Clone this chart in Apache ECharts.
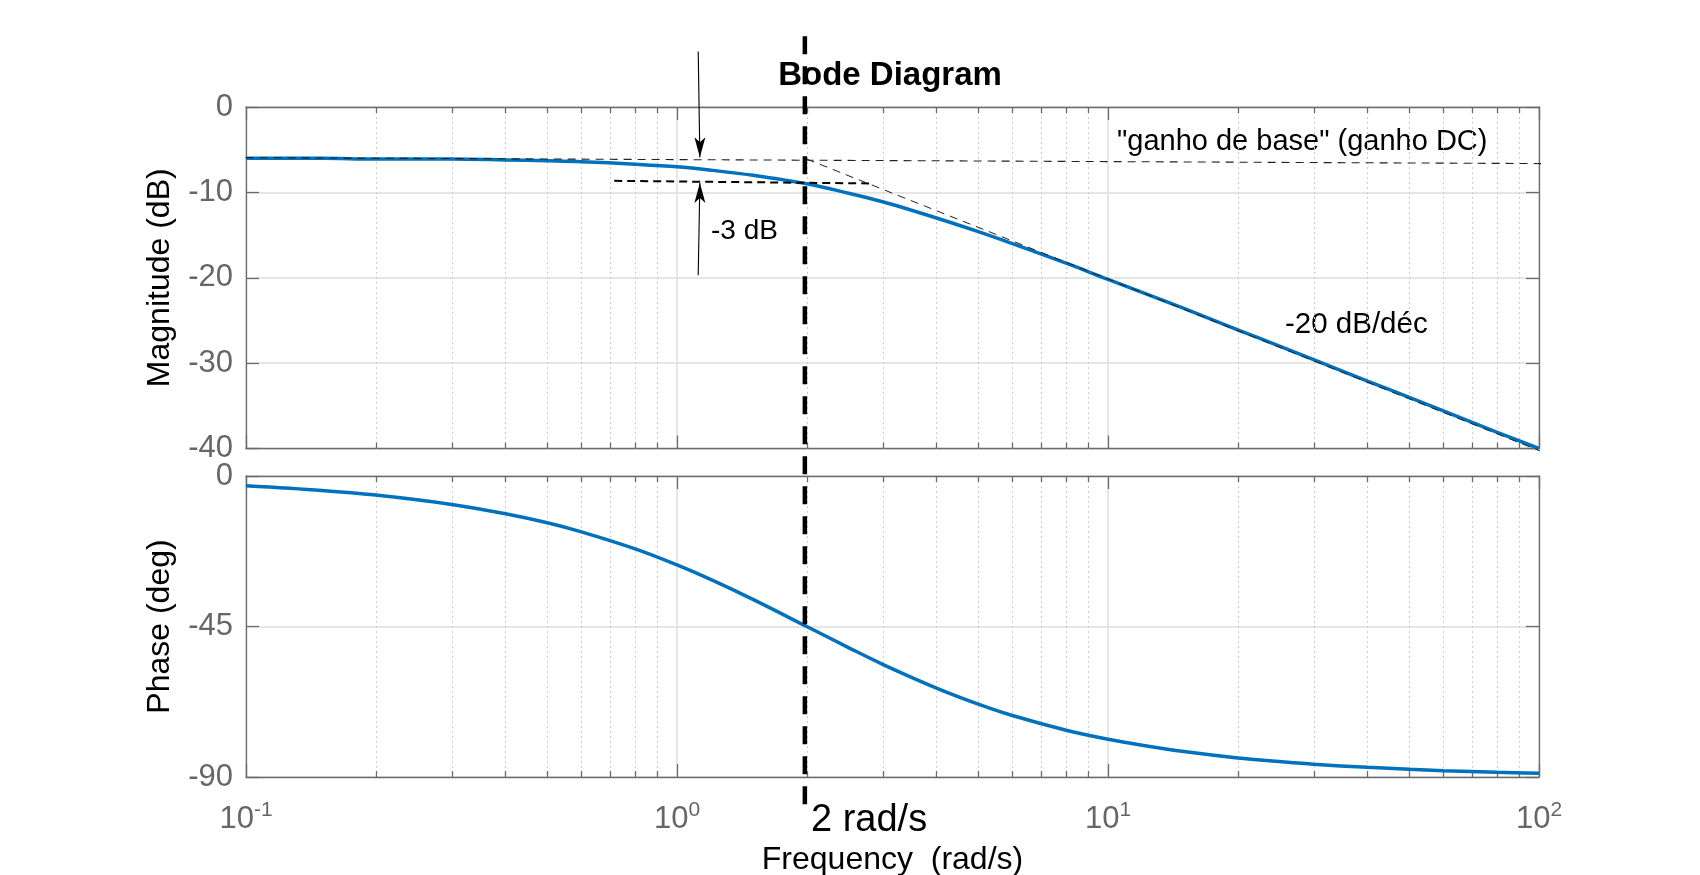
<!DOCTYPE html>
<html>
<head>
<meta charset="utf-8">
<script src="https://cdn.jsdelivr.net/npm/echarts@6/dist/echarts.min.js"></script>
<style>
html,body{margin:0;padding:0;background:#ffffff;}
#chart{width:1700px;height:875px;}
</style>
</head>
<body>
<div id="chart"></div>
<script>
// ---- data ----
const freq = [0.1, 0.15, 0.2, 0.3, 0.4, 0.5, 0.6, 0.8, 1, 1.2, 1.5, 2, 2.5, 3, 4, 5, 6, 8, 10, 12, 15, 20, 25, 30, 40, 50, 60, 80, 100];
const magnitudeDb = [-6.0, -6.0, -6.1, -6.1, -6.2, -6.3, -6.4, -6.7, -7.0, -7.4, -8.0, -9.0, -10.1, -11.1, -13.0, -14.6, -16.0, -18.3, -20.2, -21.7, -23.6, -26.1, -28.0, -29.6, -32.1, -34.0, -35.6, -38.1, -40.0];
const phaseDeg = [-2.9, -4.3, -5.7, -8.5, -11.3, -14.0, -16.7, -21.8, -26.6, -31.0, -36.9, -45.0, -51.3, -56.3, -63.4, -68.2, -71.6, -76.0, -78.7, -80.5, -82.4, -84.3, -85.4, -86.2, -87.1, -87.7, -88.1, -88.6, -88.9];
const minorFreqs = [0.2, 0.3, 0.4, 0.5, 0.6, 0.7, 0.8, 0.9, 2, 3, 4, 5, 6, 7, 8, 9, 20, 30, 40, 50, 60, 70, 80, 90];
const magTickStep = 10;
const phaseTickStep = 45;

// annotation lines, in data units (frequency rad/s, dB)
const dcGainLine = [[0.074, -5.9], [207, -6.7]];
const minus3dBLine = [[0.715, -8.65], [2.79, -8.95]];
const asymptoteLine = [[2, -6.1], [187, -45.7]];
const cornerLine = [[1.98, 8.3], [1.98, -83]];
const arrowDown = [[1.12, 6.5], [1.13, -5.9]];
const arrowUp = [[1.12, -19.7], [1.13, -8.9]];

const FONT = '"Liberation Sans", Arial, Helvetica, sans-serif';
const AX = '#6b6b6b';
const LBL = '#666666';
const GRID = '#dedede';
const BLUE = '#0072BD';
const ARROW = 'path://M0,0 L5.5,20 L0,15 L-5.5,20 Z';

const chart = echarts.init(document.getElementById('chart'), null, {renderer: 'canvas'});

function xAx(gridIndex, position, labels) {
  const a = {
    type: 'log', logBase: 10, min: 0.1, max: 100, gridIndex, position,
    axisLine: {show: true, onZero: false, lineStyle: {color: AX, width: 1.3}},
    axisTick: {show: true, inside: true, length: 13, lineStyle: {color: AX, width: 1.3}},
    axisLabel: {show: false},
    splitLine: {show: position === 'bottom', lineStyle: {color: GRID, width: 1.5}},
    minorTick: {show: false}, minorSplitLine: {show: false}
  };
  if (labels) {
    a.axisLabel = {
      show: true, margin: 23, color: LBL, fontSize: 31, fontFamily: FONT,
      showMinLabel: true, showMaxLabel: true, hideOverlap: false,
      formatter: v => '{b|10}{s|' + Math.round(Math.log10(v)) + '}',
      rich: {
        b: {fontSize: 31, color: LBL, fontFamily: FONT},
        s: {fontSize: 21, color: LBL, fontFamily: FONT, padding: [0, 0, 17, 0]}
      }
    };
    a.name = 'Frequency  (rad/s)';
    a.nameLocation = 'middle';
    a.nameGap = 67;
    a.nameTextStyle = {color: '#000', fontSize: 32, fontFamily: FONT};
  }
  return a;
}
function yAx(gridIndex, position, min, max, interval, name) {
  const left = position === 'left';
  const a = {
    type: 'value', gridIndex, position, min, max, interval,
    axisLine: {show: true, onZero: false, lineStyle: {color: AX, width: 1.3}},
    axisTick: {show: true, inside: true, length: 13, lineStyle: {color: AX, width: 1.3}},
    axisLabel: {show: left, color: LBL, fontSize: 31, fontFamily: FONT, margin: 13, showMinLabel: true, showMaxLabel: true, hideOverlap: false},
    splitLine: {show: left, lineStyle: {color: GRID, width: 1.5}}
  };
  if (left) {
    a.name = name;
    a.nameLocation = 'middle';
    a.nameGap = 70;
    a.nameTextStyle = {color: '#000', fontSize: 32, fontFamily: FONT};
  }
  return a;
}

function minorRender(params, api) {
  const cs = params.coordSys;
  const x = Math.round(api.coord([api.value(0), api.value(1)])[0]) + 0.5;
  const top = cs.y, bot = cs.y + cs.height;
  return {
    type: 'group',
    children: [
      {type: 'line', shape: {x1: x, y1: top, x2: x, y2: bot}, style: {stroke: '#cccccc', lineWidth: 1, lineDash: [2, 3]}},
      {type: 'line', shape: {x1: x, y1: top, x2: x, y2: top + 6}, style: {stroke: AX, lineWidth: 1.3}},
      {type: 'line', shape: {x1: x, y1: bot, x2: x, y2: bot - 6}, style: {stroke: AX, lineWidth: 1.3}}
    ]
  };
}

function annot(data, width, dash, color) {
  return {
    type: 'line', xAxisIndex: 0, yAxisIndex: 0, data, clip: false, silent: true,
    showSymbol: false, symbol: 'none', z: 4,
    lineStyle: {color, width, type: dash}
  };
}
function arrowSeries(pts, down) {
  return {
    type: 'line', xAxisIndex: 0, yAxisIndex: 0, clip: false, silent: true, z: 5,
    showSymbol: true, showAllSymbol: true,
    lineStyle: {color: '#000', width: 1.1},
    itemStyle: {color: '#000', borderWidth: 0},
    data: [
      {value: pts[0], symbol: 'none'},
      {value: pts[1], symbol: ARROW, symbolSize: [11, 20], symbolRotate: down ? 180 : 0, symbolOffset: [0, down ? -10 : 10]}
    ]
  };
}

const option = {
  animation: false,
  backgroundColor: '#ffffff',
  textStyle: {fontFamily: FONT},
  title: {
    text: 'Bode Diagram', left: 890, top: 59, textAlign: 'center', padding: 0, zlevel: 1, z: 20,
    textStyle: {fontSize: 33, fontWeight: 'bold', color: '#000', fontFamily: FONT}
  },
  grid: [
    {left: 246, top: 107, width: 1293, height: 341.5, outerBoundsMode: 'none', containLabel: false},
    {left: 246, top: 476, width: 1293, height: 301, outerBoundsMode: 'none', containLabel: false}
  ],
  xAxis: [xAx(0, 'bottom', false), xAx(0, 'top', false), xAx(1, 'bottom', true), xAx(1, 'top', false)],
  yAxis: [
    yAx(0, 'left', -40, 0, magTickStep, 'Magnitude (dB)'), yAx(0, 'right', -40, 0, magTickStep),
    yAx(1, 'left', -90, 0, phaseTickStep, 'Phase (deg)'), yAx(1, 'right', -90, 0, phaseTickStep)
  ],
  graphic: [
    {type: 'text', x: 711, y: 231, silent: true, style: {text: '-3 dB', fill: '#000', fontSize: 28, fontFamily: FONT, align: 'left', verticalAlign: 'middle'}},
    {type: 'text', x: 1117, y: 142, silent: true, style: {text: '"ganho de base" (ganho DC)', fill: '#000', fontSize: 29, fontFamily: FONT, align: 'left', verticalAlign: 'middle'}},
    {type: 'text', x: 1285, y: 325, silent: true, style: {text: '-20 dB/déc', fill: '#000', fontSize: 29.5, fontFamily: FONT, align: 'left', verticalAlign: 'middle'}},
    {type: 'text', x: 811, y: 821, silent: true, style: {text: '2 rad/s', fill: '#000', fontSize: 38, fontFamily: FONT, align: 'left', verticalAlign: 'middle'}}
  ],
  series: [
    {type: 'custom', xAxisIndex: 0, yAxisIndex: 0, renderItem: minorRender, data: minorFreqs.map(f => [f, -20]), silent: true, z: 1, encode: {x: 0, y: 1}},
    {type: 'custom', xAxisIndex: 2, yAxisIndex: 2, renderItem: minorRender, data: minorFreqs.map(f => [f, -45]), silent: true, z: 1, encode: {x: 0, y: 1}},
    {
      name: 'Magnitude', type: 'line', xAxisIndex: 0, yAxisIndex: 0, z: 3,
      data: freq.map((f, i) => [f, magnitudeDb[i]]),
      smooth: 0.35, showSymbol: false, symbol: 'none',
      lineStyle: {color: BLUE, width: 3.5}
    },
    {
      name: 'Phase', type: 'line', xAxisIndex: 2, yAxisIndex: 2, z: 3,
      data: freq.map((f, i) => [f, phaseDeg[i]]),
      smooth: 0.35, showSymbol: false, symbol: 'none',
      lineStyle: {color: BLUE, width: 3.5}
    },
    annot(dcGainLine, 1.1, [8, 6], '#222222'),
    annot(minus3dBLine, 2, [8, 5], '#000000'),
    annot(asymptoteLine, 1, [8, 6], '#222222'),
    annot(cornerLine, 4.5, [18, 12], '#000000'),
    arrowSeries(arrowDown, true),
    arrowSeries(arrowUp, false)
  ]
};
chart.setOption(option);
</script>
</body>
</html>
